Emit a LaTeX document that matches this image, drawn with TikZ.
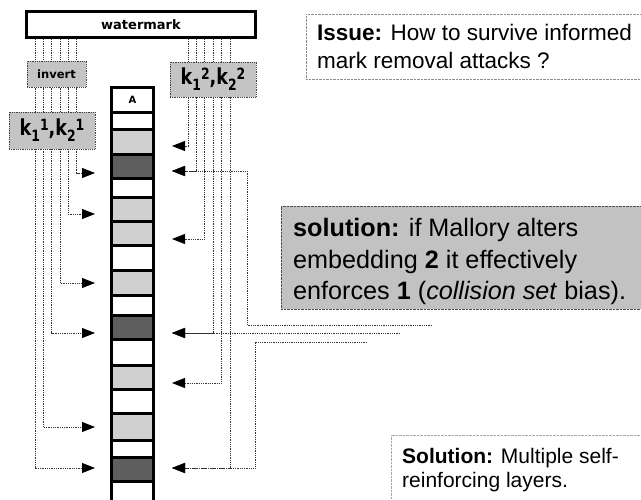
\documentclass[tikz,border=0pt]{standalone}
\usepackage{fontspec}
\setmainfont{Liberation Sans}
\newfontfamily\labelfont{DejaVu Sans}
\usetikzlibrary{arrows.meta}
\definecolor{cellLight}{HTML}{D0D0D0}
\definecolor{cellDark}{HTML}{5E5E5E}
\definecolor{boxGray}{HTML}{C4C4C4}
\definecolor{noteGray}{HTML}{C2C2C2}
% key label: k_1^n , k_2^n with the index set after the subscript
\newcommand\kkey[1]{\fontsize{22}{22}\selectfont
  k\raisebox{-6pt}{\fontsize{15.5}{15.5}\selectfont 1}\raisebox{5pt}{\fontsize{15.5}{15.5}\selectfont #1},%
  k\raisebox{-6pt}{\fontsize{15.5}{15.5}\selectfont 2}\raisebox{5pt}{\fontsize{15.5}{15.5}\selectfont #1}}
\begin{document}
\begin{tikzpicture}[x=1pt,y=-1pt,
  link/.style={draw=black!80, line width=0.9pt, dash pattern=on 0.9pt off 0.9pt},
  arr/.style={link, -{Triangle[length=13pt,width=10pt,color=black,fill=black]}},
  keybox/.style={draw=black!75, line width=0.9pt, dash pattern=on 0.9pt off 0.9pt,
    fill=boxGray, inner sep=0, outer sep=0, font=\labelfont\bfseries},
  cellbox/.style={draw=black, line width=3pt, minimum width=42pt, inner sep=0, outer sep=0},
  note/.style={draw=black!45, line width=0.7pt, dash pattern=on 0.7pt off 0.7pt,
    inner sep=0, outer sep=0, anchor=north west},
  txtline/.style={anchor=base west, inner sep=0},
]
\useasboundingbox (0,0) rectangle (641,499);
\clip (0,0) rectangle (641,499);

% embedding 1: six key streams feeding the column from the left
\foreach \x/\y [count=\i] in {76.7/173, 68.3/214, 60/283, 51.7/333, 43.3/427, 35/468} {
  \coordinate (ls\i) at (\x,39);
  \coordinate (lt\i) at (95,\y);
  \draw[arr] (ls\i) |- (lt\i);
}
% embedding 2: six key streams feeding the column from the right
\foreach \x/\y [count=\i] in {188/146, 196/171, 204.5/239, 213/333, 221.5/383, 230/468} {
  \coordinate (rs\i) at (\x,39);
  \coordinate (rt\i) at (172,\y);
  \draw[arr] (rs\i) |- (rt\i);
}
% collision links into the shared (dark) cells
\coordinate (e1) at (432,325);
\coordinate (b1) at (247,171);
\draw[arr] (e1) -| (b1) -- (rt2);
\coordinate (e2) at (400,333);
\draw[arr] (e2) -- (rt4);
\coordinate (e3) at (367,342);
\coordinate (b3) at (255,468);
\draw[arr] (e3) -| (b3) -- (rt6);

% watermark and key boxes
\node[draw=black, line width=3pt, fill=white, minimum width=229, minimum height=26,
  inner sep=0, font=\labelfont\bfseries\fontsize{13}{13}\selectfont] (wm) at (141,24.5) {watermark};
\node[keybox, minimum width=59, minimum height=26, font=\labelfont\bfseries\fontsize{11.5}{11.5}\selectfont]
  (inv) at (56.5,74) {invert};
\node[keybox, minimum width=86, minimum height=37] (key1) at (52,130.5) {\scalebox{0.8}[1]{\kkey{1}}};
\node[keybox, minimum width=86, minimum height=35] (key2) at (213,79.5) {\scalebox{0.8}[1]{\kkey{2}}};

% the marked column
\foreach \a/\b/\f [count=\i] in {87.5/112.5/white, 112.5/129/white, 129/154.5/cellLight,
  154.5/178/cellDark, 178/197/white, 197/221/cellLight, 221/245.5/cellLight, 245.5/270.5/white,
  270.5/295/cellLight, 295/315.5/white, 315.5/339.5/cellDark, 339.5/365.5/white,
  365.5/389.5/cellLight, 389.5/413/white, 413/440.5/cellLight, 440.5/457.5/white,
  457.5/481.5/cellDark, 481.5/510/white}
  \node[cellbox, fill=\f, minimum height={\b-\a}, anchor=north] (c\i) at (132.5,\a) {};
\node[font=\labelfont\bfseries\fontsize{10}{10}\selectfont, inner sep=0] (lblA) at (c1.center) {A};

% notes
\node[note, fill=white, minimum width=339, minimum height=65] (issue) at (306,14) {};
\node[txtline, font=\fontsize{22.5}{27}\selectfont] (issue1) at (317,40) {\textbf{Issue:} How to survive informed};
\node[txtline, font=\fontsize{22.5}{27}\selectfont] (issue2) at (317,68) {mark removal attacks ?};

\node[note, draw=black!70, fill=noteGray, minimum width=364, minimum height=103] (sol) at (281,206) {};
\node[txtline, font=\fontsize{25.2}{32}\selectfont] (sol1) at (293,236) {\textbf{solution:} if Mallory alters};
\node[txtline, font=\fontsize{25.2}{32}\selectfont] (sol2) at (293,268) {embedding \textbf{2} it effectively};
\node[txtline, font=\fontsize{25.2}{32}\selectfont] (sol3) at (293,299) {enforces \textbf{1} (\textit{collision set} bias).};

\node[note, draw=black!35, fill=white, minimum width=254, minimum height=70] (layers) at (391,435) {};
\node[txtline, font=\fontsize{21}{25}\selectfont] (lay1) at (402,463) {\textbf{Solution:} Multiple self-};
\node[txtline, font=\fontsize{21}{25}\selectfont] (lay2) at (402,487) {reinforcing layers.};
\end{tikzpicture}
\end{document}
